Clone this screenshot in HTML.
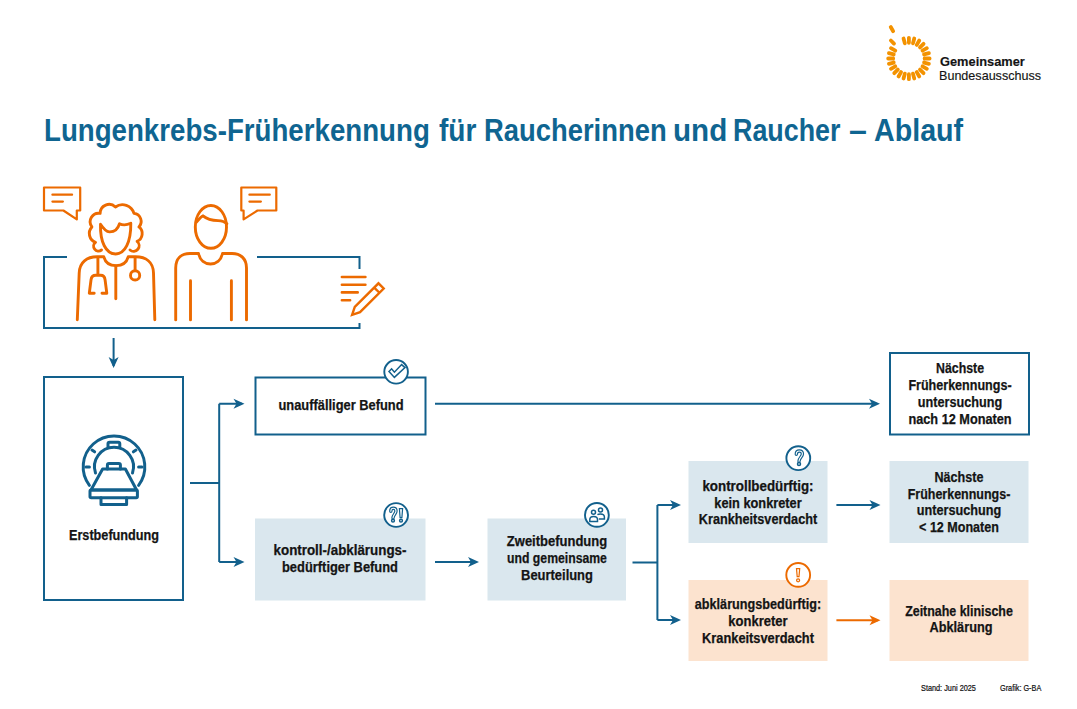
<!DOCTYPE html>
<html><head><meta charset="utf-8">
<style>
html,body{margin:0;padding:0;background:#fff;}
body{width:1077px;height:709px;position:relative;overflow:hidden;font-family:"Liberation Sans",sans-serif;}
svg{position:absolute;left:0;top:0;}
.l{position:absolute;width:300px;text-align:center;font-weight:bold;color:#141414;-webkit-text-stroke:0.25px #141414;font-size:13.8px;line-height:17px;white-space:nowrap;}
.tw{position:absolute;top:112px;font-size:30.5px;font-weight:bold;color:#0f6591;white-space:nowrap;line-height:36px;transform-origin:0 0;}
.logo{position:absolute;font-size:13px;color:#141414;-webkit-text-stroke:0.15px #141414;white-space:nowrap;line-height:15px;transform-origin:0 0;}
.small{position:absolute;font-size:8.3px;color:#111;-webkit-text-stroke:0.2px #111;white-space:nowrap;line-height:10px;transform-origin:0 0;}
</style></head>
<body>
<svg width="1077" height="709" viewBox="0 0 1077 709">
  <g fill="none" stroke="#12608c" stroke-width="2">
    <path d="M67,257 H44 V328 H359.5 V323"/>
    <path d="M257,257 H359.5 V269"/>
    <rect x="44" y="377" width="139" height="223"/>
    <rect x="255.5" y="377.5" width="170" height="57"/>
    <rect x="890" y="353" width="139" height="81.5"/>
    <path d="M113.6,338 V366"/>
    <path d="M190,483 H219.2 M219.2,403.8 V562 M219.2,403.8 H242 M219.2,562 H242"/>
    <path d="M435,403.8 H877"/>
    <path d="M435,562 H476"/>
    <path d="M632.5,562.5 H657.4 M657.4,505 V620 M657.4,505 H678 M657.4,620 H678"/>
    <path d="M836.4,505 H878"/>
  </g>
  <g fill="#12608c">
    <path d="M0,0 L-11,-5 L-8,0 L-11,5 Z" transform="translate(113.6,368) rotate(90)"/>
    <path d="M0,0 L-11,-5 L-8,0 L-11,5 Z" transform="translate(244.5,403.8)"/>
    <path d="M0,0 L-11,-5 L-8,0 L-11,5 Z" transform="translate(244.5,562)"/>
    <path d="M0,0 L-11,-5 L-8,0 L-11,5 Z" transform="translate(880,403.8)"/>
    <path d="M0,0 L-11,-5 L-8,0 L-11,5 Z" transform="translate(479,562)"/>
    <path d="M0,0 L-11,-5 L-8,0 L-11,5 Z" transform="translate(681,505)"/>
    <path d="M0,0 L-11,-5 L-8,0 L-11,5 Z" transform="translate(681,620)"/>
    <path d="M0,0 L-11,-5 L-8,0 L-11,5 Z" transform="translate(880.5,505)"/>
  </g>
  <path d="M836.4,620.3 H878" stroke="#ec6a00" stroke-width="2"/>
  <path d="M0,0 L-11,-5 L-8,0 L-11,5 Z" fill="#ec6a00" transform="translate(880.5,620.3)"/>
  <rect x="255" y="518.5" width="170.5" height="82" fill="#dae7ee"/>
  <rect x="487.5" y="518.5" width="138.5" height="82" fill="#dae7ee"/>
  <rect x="688.5" y="461" width="139" height="82" fill="#dae7ee"/>
  <rect x="889.5" y="461" width="139" height="82" fill="#dae7ee"/>
  <rect x="688.5" y="580" width="139" height="81" fill="#fce3cf"/>
  <rect x="889.5" y="580" width="139" height="81" fill="#fce3cf"/>

  <path d="M908.90,42.80L908.90,37.80M912.96,43.33L914.26,38.51M916.75,44.90L919.25,40.57M920.00,47.40L923.54,43.86M922.50,50.65L926.83,48.15M924.07,54.44L928.89,53.14M924.60,58.50L929.60,58.50M924.07,62.56L928.89,63.86M922.50,66.35L926.83,68.85M920.00,69.60L923.54,73.14M916.75,72.10L919.25,76.43M912.96,73.67L914.26,78.49M908.90,74.20L908.90,79.20M904.84,73.67L903.54,78.49M901.05,72.10L898.55,76.43M897.80,69.60L894.26,73.14M895.30,66.35L890.97,68.85M893.73,62.56L888.91,63.86M893.20,58.50L888.20,58.50M893.73,54.44L888.91,53.14M895.30,50.65L890.97,48.15M893.98,43.58L890.87,40.47M893.15,31.22L890.75,27.06M904.84,43.33L903.54,38.51" stroke="#f39200" stroke-width="3.8" stroke-linecap="round" fill="none"/>

  <g fill="none" stroke="#ec6a00" stroke-width="2.9" stroke-linecap="round" stroke-linejoin="round">
    <path d="M63.4,210.5 H44 V187.5 H80.2 V210.5 H76.8 V219.4 Z" stroke-width="2.2"/>
    <path d="M52.4,194.7 H72.1 M52.4,201.6 H62.9" stroke-width="2.2"/>
    <path d="M257.5,210.5 H276.3 V187.5 H241.3 V210.5 H243.6 V219.4 Z" stroke-width="2.2"/>
    <path d="M249.4,194.7 H269.8 M249.4,201.6 H260.9" stroke-width="2.2"/>
    <path d="M77.3,319.8 L79.2,273 C79.5,262 87,256.8 97,256.8 H103.8 C105.5,263 110,265.6 116,265.6 C122,265.6 126.5,263 128.2,256.8 H135.5 C146,256.8 153.2,262 153.5,273 L154.8,319.8"/>
    <path d="M115.8,266 V298.7"/>
    <path d="M97.9,257.5 V275.3 M94.2,293.2 H89.3 L91,280 Q91.5,275.3 95.8,275.3 H100.6 Q104.6,275.3 105.1,280 L106.8,293.2 H102"/>
    <path d="M135.1,257.5 V270.5"/>
    <circle cx="135.1" cy="275.4" r="4.6"/>
    <path d="M100.5,224.2 C100,242 106,254 115.6,254 C125,254 131,242 130.8,223.3 C127,225 123,225.5 119.5,223.7 C118,229 114,232 109.5,231.9 C105.5,231.5 103,228 100.5,224.2 Z"/>
    <path d="M101.5,250 A4.8,4.8 0 0 1 95.5,242.3 A9.5,9.5 0 0 1 91.9,226.9 A8.5,8.5 0 0 1 100.1,213.4 A9,9 0 0 1 115.4,207 A12,12 0 0 1 134,213.4 A8,8 0 0 1 138.9,226.9 A8.5,8.5 0 0 1 137.1,241.4 A5.2,5.2 0 0 1 130,250"/>
    <ellipse cx="210.9" cy="226.9" rx="15.6" ry="21.4"/>
    <path d="M196.5,222 C199,219 201,216.5 203,215.8 C208,220 214,220.5 218,220.6 C222,220.8 225,222 226.9,223.8"/>
    <path d="M175.7,319.9 V268 C175.7,259 181,253.5 190,253.5 H198.5 C200,260.5 205,264 210.5,264 C216,264 221,260.5 222.5,253.5 H232 C241,253.5 246.5,259 246.5,268 V319.9"/>
    <path d="M190.5,280.7 V319.9 M231.4,280.7 V319.9"/>
    <path d="M341.9,277 H365.4 M341.9,284.8 H365.4 M341.9,292.4 H357.7 M341.9,300.3 H350.1" stroke-width="2.6"/>
    <path d="M0,0 L7.5,-3.7 H41 V3.7 H7.5 Z M35,-3.7 V3.7" transform="translate(352.1,314.9) rotate(-45)" stroke-width="2.4" stroke-linejoin="miter"/>
  </g>

  <g fill="none" stroke="#12608c" stroke-width="3" stroke-linecap="round" stroke-linejoin="round">
    <path d="M89.4,485.3 A30.8,30.8 0 1 1 138.6,485.3"/>
    <path d="M95.5,473 A19.5,19.5 0 1 1 132.5,473"/>
    <path d="M108,447 V443.8 Q108,442.2 109.6,442.2 H118.2 Q119.8,442.2 119.8,443.8 V447"/>
    <path d="M86,467 H89.4 M138.6,467 H142 M92,450 L94.6,451.8 M136,450 L133.4,451.8"/>
    <path d="M102.6,469 H125.4 L136.6,490 H91 Z"/>
    <path d="M107.4,469 V465 Q107.4,463.4 109,463.4 H118.8 Q120.4,463.4 120.4,465 V469"/>
    <rect x="90" y="490" width="47.4" height="7.8" rx="1.2"/>
    <path d="M101,497.8 V504.6 H126.6 V497.8"/>
  </g>

  <g stroke="#12608c" stroke-width="1.9" fill="#fff">
    <circle cx="396.1" cy="371.8" r="11.8"/>
    <circle cx="396.1" cy="515" r="11.9"/>
    <circle cx="596.9" cy="514.9" r="11.9"/>
    <circle cx="798.3" cy="458.2" r="11.9"/>
  </g>
  <circle cx="798.2" cy="574.9" r="11.9" stroke="#ec6a00" stroke-width="1.9" fill="#fff"/>
  <path d="M389,371.5 L394.4,377.4 L405,367.6 L401.6,364.6 L394.4,372.2 L391.6,368.8 Z" fill="none" stroke="#12608c" stroke-width="1.5" stroke-linejoin="miter"/>
  <g fill="none" stroke-linecap="round" stroke-linejoin="round">
    <g stroke="#12608c" stroke-width="3.4">
      <path d="M796.3,454.2 C796.3,451.6 798,451 799.3,451 C801.2,451 802.4,452.3 802.4,454 C802.4,456.6 799,458 799,461.2"/>
      <path d="M390.8,511.2 C390.8,508.6 392.3,508.3 393.3,508.3 C395,508.3 396,509.5 396,511 C396,513.5 393,515 393,518"/>
      </g>
    <g stroke="#fff" stroke-width="1.1">
      <path d="M796.3,454.2 C796.3,451.6 798,451 799.3,451 C801.2,451 802.4,452.3 802.4,454 C802.4,456.6 799,458 799,461.2"/>
      <path d="M390.8,511.2 C390.8,508.6 392.3,508.3 393.3,508.3 C395,508.3 396,509.5 396,511 C396,513.5 393,515 393,518"/>
    </g>
    <g stroke="#12608c" stroke-width="1.5">
      <circle cx="799" cy="464" r="1.5"/>
      <circle cx="393" cy="520.7" r="1.4"/>
      <circle cx="401" cy="520.7" r="1.4"/>
    </g>
    <path d="M796.5,568.6 H799.7 L799,576.6 H797.2 Z" stroke="#ec6a00" stroke-width="1.2" fill="#fff" stroke-linejoin="miter"/>
    <path d="M399.4,508.6 H402.6 L401.9,517.6 H400.1 Z" stroke="#12608c" stroke-width="1.2" fill="#fff" stroke-linejoin="miter"/>
    <circle cx="798.1" cy="580.3" r="1.5" stroke="#ec6a00" stroke-width="1.3"/>
  </g>
  <g fill="none" stroke="#12608c" stroke-width="1.5">
    <circle cx="593.5" cy="512.3" r="2"/>
    <circle cx="600.5" cy="510" r="2"/>
    <path d="M589.8,521.6 V519.5 C589.8,517.5 591.4,516.4 593.6,516.4 C595.8,516.4 597.5,517.5 597.5,519.5 V521.6 Z"/>
    <path d="M597.4,514.6 C598.2,514.1 599.3,513.9 600.5,513.9 C602.8,513.9 604.4,515 604.4,517 V519.1 H598.8"/>
  </g>
</svg>

<div class="tw" style="left:44.19px;transform:scaleX(0.907)">Lungenkrebs-Früherkennung</div>
<div class="tw" style="left:438.80px;transform:scaleX(0.92)">für</div>
<div class="tw" style="left:483.80px;transform:scaleX(0.898)">Raucherinnen</div>
<div class="tw" style="left:672.76px;transform:scaleX(0.971)">und</div>
<div class="tw" style="left:732.94px;transform:scaleX(0.881)">Raucher</div>
<div class="tw" style="left:848.85px;transform:scaleX(1.053)">–</div>
<div class="tw" style="left:874.26px;transform:scaleX(0.939)">Ablauf</div>

<div class="l" style="left:-36.50px;top:526.80px;transform:scaleX(0.9175)">Erstbefundung</div>
<div class="l" style="left:190.50px;top:396.50px;transform:scaleX(0.9331)">unauffälliger Befund</div>
<div class="l" style="left:809.50px;top:360.40px;transform:scaleX(0.8943)">Nächste</div>
<div class="l" style="left:809.50px;top:377.40px;transform:scaleX(0.9098)">Früherkennungs-</div>
<div class="l" style="left:809.50px;top:394.10px;transform:scaleX(0.9167)">untersuchung</div>
<div class="l" style="left:809.50px;top:410.50px;transform:scaleX(0.9218)">nach 12 Monaten</div>
<div class="l" style="left:190.25px;top:542.20px;transform:scaleX(0.9684)">kontroll-/abklärungs-</div>
<div class="l" style="left:190.25px;top:558.50px;transform:scaleX(0.9341)">bedürftiger Befund</div>
<div class="l" style="left:406.75px;top:532.70px;transform:scaleX(0.9415)">Zweitbefundung</div>
<div class="l" style="left:406.75px;top:549.60px;transform:scaleX(0.8857)">und gemeinsame</div>
<div class="l" style="left:406.75px;top:566.50px;transform:scaleX(0.9373)">Beurteilung</div>
<div class="l" style="left:608.00px;top:477.70px;transform:scaleX(0.9664)">kontrollbedürftig:</div>
<div class="l" style="left:608.00px;top:494.60px;transform:scaleX(0.9266)">kein konkreter</div>
<div class="l" style="left:608.00px;top:510.60px;transform:scaleX(0.9187)">Krankheitsverdacht</div>
<div class="l" style="left:809.00px;top:468.90px;transform:scaleX(0.9113)">Nächste</div>
<div class="l" style="left:809.00px;top:485.80px;transform:scaleX(0.9045)">Früherkennungs-</div>
<div class="l" style="left:809.00px;top:502.10px;transform:scaleX(0.9167)">untersuchung</div>
<div class="l" style="left:809.00px;top:519.00px;transform:scaleX(0.9092)">&lt; 12 Monaten</div>
<div class="l" style="left:608.00px;top:595.80px;transform:scaleX(0.9153)">abklärungsbedürftig:</div>
<div class="l" style="left:608.00px;top:612.70px;transform:scaleX(0.9435)">konkreter</div>
<div class="l" style="left:608.00px;top:629.60px;transform:scaleX(0.9286)">Krankeitsverdacht</div>
<div class="l" style="left:809.00px;top:602.50px;transform:scaleX(0.9000)">Zeitnahe klinische</div>
<div class="l" style="left:810.50px;top:619.10px;transform:scaleX(0.9235)">Abklärung</div>

<div class="logo" style="left:940.2px;top:54px;font-weight:bold;transform:scaleX(0.986)">Gemeinsamer</div>
<div class="logo" style="left:939.2px;top:68px;transform:scaleX(0.967)">Bundesausschuss</div>
<div class="small" style="left:920.8px;top:683.4px;transform:scaleX(0.882)">Stand: Juni 2025</div>
<div class="small" style="left:999.8px;top:683.4px;transform:scaleX(0.877)">Grafik: G-BA</div>
</body></html>
